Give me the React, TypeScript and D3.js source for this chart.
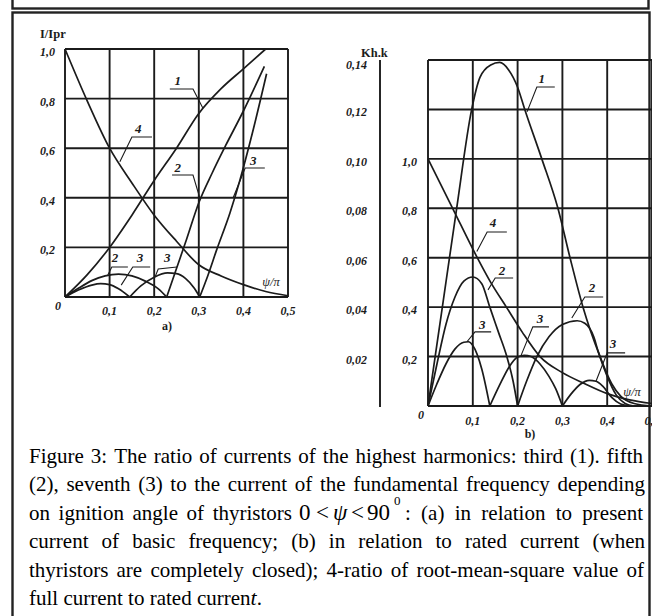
import React from 'react';
import * as d3 from 'd3';

type P = [number, number];

// ---------------- data ----------------
const psiTicks = [0.1, 0.2, 0.3, 0.4, 0.5];
const ratioTicksA = [0.2, 0.4, 0.6, 0.8, 1.0];
const ratioTicksB = [0.2, 0.4, 0.6, 0.8, 1.0];
const khTicksB = [0.02, 0.04, 0.06, 0.08, 0.1, 0.12, 0.14];

// panel a) : I/Ipr vs psi/pi
const a1Third: P[] = [[0, 0], [0.05, 0.09], [0.1, 0.2], [0.15, 0.33], [0.2, 0.47], [0.25, 0.6], [0.3, 0.74], [0.35, 0.84], [0.4, 0.92], [0.45, 1.0]];
const a2Fifth: P[] = [[0, 0], [0.03, 0.035], [0.06, 0.066], [0.09, 0.085], [0.12, 0.092], [0.15, 0.085], [0.18, 0.064], [0.21, 0.032], [0.228, 0], [0.25, 0.115], [0.273, 0.235], [0.3, 0.38], [0.33, 0.5], [0.36, 0.61], [0.4, 0.75], [0.447, 0.93]];
const a3Seventh: P[] = [[0, 0], [0.03, 0.028], [0.06, 0.048], [0.08, 0.054], [0.1, 0.05], [0.12, 0.033], [0.145, 0], [0.17, 0.045], [0.2, 0.08], [0.23, 0.097], [0.25, 0.094], [0.27, 0.075], [0.29, 0.035], [0.302, 0], [0.32, 0.085], [0.34, 0.19], [0.37, 0.34], [0.392, 0.47], [0.42, 0.66], [0.452, 0.9]];
const a4Rms: P[] = [[0, 1.0], [0.05, 0.79], [0.1, 0.6], [0.15, 0.46], [0.2, 0.33], [0.25, 0.225], [0.3, 0.13], [0.35, 0.085], [0.4, 0.05], [0.45, 0.022], [0.5, 0.005]];

// panel b) : curve 1 on Kh.k scale (0..0.14), others on 0..1 scale
const b1Third: P[] = [[0, 0], [0.02, 0.025], [0.04, 0.05], [0.064, 0.08], [0.0975, 0.12], [0.116, 0.133], [0.14, 0.138], [0.16, 0.139], [0.18, 0.136], [0.2, 0.129], [0.216, 0.12], [0.254, 0.1], [0.29, 0.08], [0.317, 0.06], [0.346, 0.04], [0.384, 0.02], [0.41, 0.009], [0.43, 0.004], [0.46, 0.001], [0.5, 0]];
const b2Fifth: P[] = [[0, 0], [0.02, 0.17], [0.04, 0.33], [0.06, 0.44], [0.08, 0.505], [0.1, 0.522], [0.12, 0.495], [0.138, 0.4], [0.157, 0.3], [0.176, 0.2], [0.19, 0.1], [0.2, 0], [0.22, 0.1], [0.243, 0.2], [0.27, 0.28], [0.3, 0.33], [0.333, 0.345], [0.35, 0.335], [0.37, 0.28], [0.38, 0.22], [0.4, 0.12], [0.42, 0.045], [0.44, 0.01], [0.46, 0]];
const b3Seventh: P[] = [[0, 0], [0.02, 0.09], [0.04, 0.17], [0.06, 0.23], [0.08, 0.258], [0.09, 0.26], [0.1, 0.245], [0.12, 0.15], [0.138, 0], [0.16, 0.085], [0.18, 0.155], [0.2, 0.198], [0.215, 0.205], [0.23, 0.2], [0.25, 0.17], [0.27, 0.12], [0.285, 0.07], [0.3, 0], [0.32, 0.05], [0.34, 0.088], [0.36, 0.104], [0.375, 0.1], [0.39, 0.08], [0.41, 0.035], [0.43, 0.008], [0.45, 0]];
const b4Rms: P[] = [[0, 1.0], [0.055, 0.8], [0.11, 0.6], [0.14, 0.5], [0.175, 0.4], [0.21, 0.3], [0.25, 0.2], [0.3, 0.135], [0.35, 0.09], [0.4, 0.05], [0.45, 0.025], [0.5, 0.01]];

// curve labels (data units: psi/pi, ratio)
type Lab = { text: string; pos: P; lead: P[] };
const labelsA: Lab[] = [
  { text: '1', pos: [0.253, 0.855], lead: [[0.235, 0.839], [0.287, 0.839], [0.309, 0.762]] },
  { text: '4', pos: [0.164, 0.661], lead: [[0.195, 0.645], [0.15, 0.645], [0.123, 0.545]] },
  { text: '2', pos: [0.253, 0.504], lead: [[0.24, 0.492], [0.287, 0.492], [0.303, 0.395]] },
  { text: '3', pos: [0.422, 0.532], lead: [[0.448, 0.52], [0.404, 0.52], [0.377, 0.4]] },
  { text: '2', pos: [0.112, 0.141], lead: [[0.141, 0.121], [0.105, 0.121], [0.096, 0.089]] },
  { text: '3', pos: [0.168, 0.141], lead: [[0.191, 0.121], [0.152, 0.121], [0.126, 0.048]] },
  { text: '3', pos: [0.229, 0.141], lead: [[0.251, 0.121], [0.209, 0.113], [0.202, 0.081]] },
];
const labelsB: Lab[] = [
  { text: '1', pos: [0.254, 1.308], lead: [[0.283, 1.291], [0.243, 1.291], [0.221, 1.19]] },
  { text: '4', pos: [0.145, 0.725], lead: [[0.176, 0.704], [0.132, 0.704], [0.109, 0.625]] },
  { text: '2', pos: [0.165, 0.53], lead: [[0.19, 0.518], [0.15, 0.518], [0.134, 0.47]] },
  { text: '2', pos: [0.366, 0.462], lead: [[0.391, 0.441], [0.35, 0.441], [0.321, 0.356]] },
  { text: '3', pos: [0.121, 0.312], lead: [[0.141, 0.3], [0.105, 0.3], [0.087, 0.26]] },
  { text: '3', pos: [0.25, 0.336], lead: [[0.27, 0.32], [0.234, 0.32], [0.208, 0.206]] },
  { text: '3', pos: [0.413, 0.235], lead: [[0.44, 0.215], [0.4, 0.215], [0.375, 0.1]] },
];

const captionLines = [
  'Figure 3: The ratio of currents of the highest harmonics: third (1). fifth',
  '(2), seventh (3) to the current of the fundamental frequency depending',
  'on ignition angle of thyristors',
  ': (a) in relation to present',
  'current of basic frequency; (b) in relation to rated current (when',
  'thyristors are completely closed); 4-ratio of root-mean-square value of',
  'full current to rated curren',
];
const captionMath = ['0', '<', 'ψ', '<', '90'];

// ---------------- layout ----------------
const W = 652, H = 616;
const FONT = "'Liberation Serif', 'Times New Roman', Times, serif";
const INK = '#1b1b1b';

const xA = d3.scaleLinear().domain([0, 0.5]).range([65, 288]);
const yA = d3.scaleLinear().domain([0, 1]).range([297, 49]);
const xB = d3.scaleLinear().domain([0, 0.5]).range([428, 652]);
const yB = d3.scaleLinear().domain([0, 1.4]).range([406, 60]);
const khToInner = (k: number) => k * 10;

const fmt1 = (v: number) => d3.format('.1f')(v).replace('.', ',');
const fmt2 = (v: number) => d3.format('.2f')(v).replace('.', ',');

function splitAtZeros(pts: P[]): P[][] {
  const segs: P[][] = [];
  let cur: P[] = [];
  pts.forEach((p, i) => {
    cur.push(p);
    if (p[1] === 0 && i > 0 && i < pts.length - 1) {
      segs.push(cur);
      cur = [p];
    }
  });
  if (cur.length > 1) segs.push(cur);
  return segs;
}

let ctx: CanvasRenderingContext2D | null = null;
function measure(text: string, font: string): number {
  if (!ctx) {
    const c = document.createElement('canvas');
    ctx = c.getContext('2d');
  }
  if (!ctx) return text.length * 9;
  ctx.font = font;
  return ctx.measureText(text).width;
}
function justify(line: string, x0: number, x1: number, size: number) {
  const words = line.split(' ');
  const font = `${size}px 'Liberation Serif'`;
  const widths = words.map((w) => measure(w, font));
  const total = widths.reduce((a, b) => a + b, 0);
  const gap = words.length > 1 ? (x1 - x0 - total) / (words.length - 1) : 0;
  let x = x0;
  return words.map((w, i) => {
    const p = x;
    x += widths[i] + gap;
    return { w, x: p };
  });
}

function Curves({ sx, sy, series }: { sx: any; sy: any; series: P[][] }) {
  const line = d3.line<P>().x((d) => sx(d[0])).y((d) => sy(d[1])).curve(d3.curveMonotoneX);
  return (
    <g fill="none" stroke={INK} strokeWidth={1.7} strokeLinejoin="round">
      {series.flatMap((s, i) => splitAtZeros(s).map((seg, j) => <path key={`${i}-${j}`} d={line(seg) || ''} />))}
    </g>
  );
}

function Labels({ sx, sy, labels }: { sx: any; sy: any; labels: Lab[] }) {
  const line = d3.line<P>().x((d) => sx(d[0])).y((d) => sy(d[1]));
  return (
    <g>
      {labels.map((l, i) => (
        <g key={i}>
          <path d={line(l.lead) || ''} fill="none" stroke={INK} strokeWidth={1.1} />
          <text x={sx(l.pos[0])} y={sy(l.pos[1])} textAnchor="middle" fontFamily={FONT} fontStyle="italic" fontWeight="bold" fontSize={13} fill={INK}>
            {l.text}
          </text>
        </g>
      ))}
    </g>
  );
}

function PanelA() {
  const xs = [0, ...psiTicks];
  const ys = [0, ...ratioTicksA];
  return (
    <g>
      <g stroke={INK} strokeWidth={1.9}>
        {xs.map((t) => <line key={'v' + t} x1={xA(t)} x2={xA(t)} y1={yA(0)} y2={yA(1)} />)}
        {ys.map((v) => <line key={'h' + v} x1={xA(0)} x2={xA(0.5)} y1={yA(v)} y2={yA(v)} />)}
      </g>
      <Curves sx={xA} sy={yA} series={[a1Third, a2Fifth, a3Seventh, a4Rms]} />
      <Labels sx={xA} sy={yA} labels={labelsA} />
      <g fontFamily={FONT} fontStyle="italic" fontWeight="bold" fontSize={12} fill={INK}>
        {ratioTicksA.map((v) => <text key={v} x={55} y={yA(v) + 7} textAnchor="end">{fmt1(v)}</text>)}
        {psiTicks.map((t) => <text key={t} x={xA(t)} y={315} textAnchor="middle">{fmt1(t)}</text>)}
        <text x={58} y={310} textAnchor="middle">0</text>
        <text x={271} y={286} textAnchor="middle" fontWeight="normal" fontSize={12.5}>ψ/π</text>
      </g>
      <text x={40} y={38} fontFamily={FONT} fontWeight="bold" fontSize={12.5} fill={INK}>I/Ipr</text>
      <text x={167} y={330} textAnchor="middle" fontFamily={FONT} fontWeight="bold" fontSize={12} fill={INK}>a)</text>
    </g>
  );
}

function PanelB() {
  const xs = [0, ...psiTicks];
  const ys = [0, ...khTicksB.map(khToInner)];
  const b1Inner: P[] = b1Third.map((d) => [d[0], khToInner(d[1])]);
  return (
    <g>
      <g stroke={INK} strokeWidth={1.9}>
        {xs.map((t) => <line key={'v' + t} x1={xB(t)} x2={xB(t)} y1={yB(0)} y2={yB(1.4)} />)}
        {ys.map((v) => <line key={'h' + v} x1={xB(0)} x2={xB(0.5)} y1={yB(v)} y2={yB(v)} />)}
        <line x1={380} x2={380} y1={yB(1.4)} y2={yB(0) + 1} />
      </g>
      <Curves sx={xB} sy={yB} series={[b1Inner, b2Fifth, b3Seventh, b4Rms]} />
      <Labels sx={xB} sy={yB} labels={labelsB} />
      <g fontFamily={FONT} fontStyle="italic" fontWeight="bold" fontSize={12} fill={INK}>
        {ratioTicksB.map((v) => <text key={v} x={417} y={yB(v) + 7} textAnchor="end">{fmt1(v)}</text>)}
        {khTicksB.map((k) => <text key={k} x={367} y={yB(khToInner(k)) + (k === 0.14 ? 9 : 7)} textAnchor="end">{fmt2(k)}</text>)}
        {psiTicks.map((t) => <text key={t} x={xB(t)} y={425} textAnchor="middle">{fmt1(t)}</text>)}
        <text x={421} y={419} textAnchor="middle">0</text>
        <text x={632} y={396} textAnchor="middle" fontWeight="normal" fontSize={12.5}>ψ/π</text>
      </g>
      <text x={361} y={57} fontFamily={FONT} fontWeight="bold" fontSize={12.5} fill={INK}>Kh.k</text>
      <text x={530} y={438} textAnchor="middle" fontFamily={FONT} fontWeight="bold" fontSize={12} fill={INK}>b)</text>
    </g>
  );
}

function Caption() {
  const size = 21;
  const base = 463, lh = 28.4;
  const X0 = 29;
  const rows: { line: string; x0: number; x1: number; y: number }[] = [
    { line: captionLines[0], x0: X0, x1: 643, y: base },
    { line: captionLines[1], x0: X0, x1: 645, y: base + lh },
    { line: captionLines[2], x0: X0, x1: 292, y: base + 2 * lh },
    { line: captionLines[3], x0: 405, x1: 643, y: base + 2 * lh },
    { line: captionLines[4], x0: X0, x1: 645, y: base + 3 * lh },
    { line: captionLines[5], x0: X0, x1: 644, y: base + 4 * lh },
  ];
  const mathX = [299, 316, 333, 351, 367];
  const lastY = base + 5 * lh;
  const lastW = measure(captionLines[6], `${size}px 'Liberation Serif'`);
  return (
    <g fontFamily={FONT} fontSize={size} fill="#000">
      {rows.map((r, i) => (
        <text key={i} y={r.y}>
          {justify(r.line, r.x0, r.x1, size).map((w, j) => <tspan key={j} x={w.x}>{w.w}</tspan>)}
        </text>
      ))}
      {captionMath.map((m, i) => (
        <text key={'m' + i} x={mathX[i]} y={base + 2 * lh} fontSize={23} fontStyle={m === 'ψ' ? 'italic' : 'normal'}>{m}</text>
      ))}
      <text x={394} y={base + 2 * lh - 15} fontSize={13}>0</text>
      <text x={X0} y={lastY}>
        {captionLines[6]}
        <tspan x={X0 + lastW} fontStyle="italic" fontSize={22}>t</tspan>
        <tspan>.</tspan>
      </text>
    </g>
  );
}

export default function App() {
  return (
    <svg width={W} height={H} viewBox={`0 0 ${W} ${H}`} style={{ position: 'absolute', left: 0, top: 0, background: '#fff' }}>
      <rect x={0} y={0} width={W} height={H} fill="#fff" />
      <rect x={12.5} y={-10} width={636} height={18.5} fill="none" stroke="#222" strokeWidth={2.4} />
      <rect x={12.5} y={12.5} width={637} height={640} fill="none" stroke="#222" strokeWidth={2.4} />
      <PanelA />
      <PanelB />
      <Caption />
    </svg>
  );
}
